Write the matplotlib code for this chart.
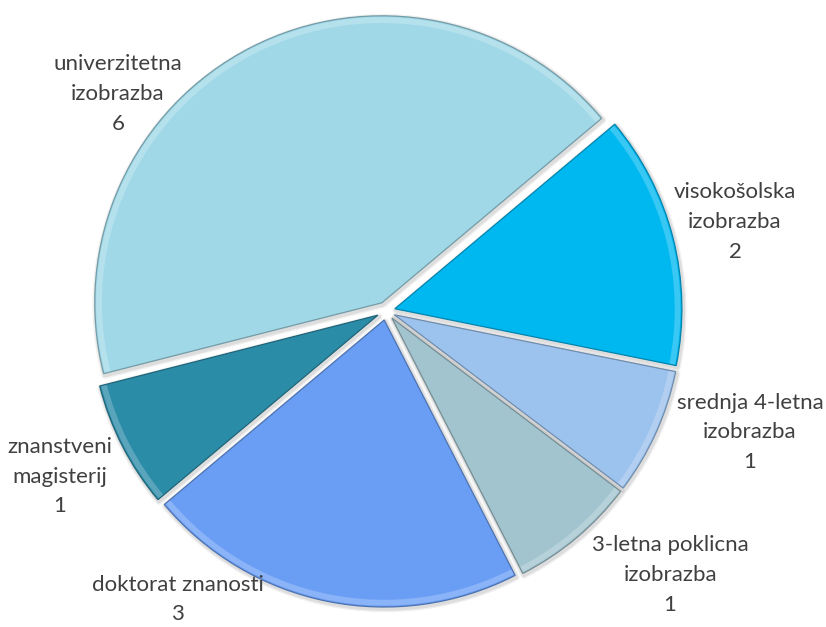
import matplotlib
matplotlib.use("Agg")
import matplotlib.pyplot as plt
import matplotlib.colors as mcolors
from matplotlib.patches import Wedge

categories = ["visokošolska\nizobrazba", "srednja 4-letna\nizobrazba", "3-letna poklicna\nizobrazba",
              "doktorat znanosti", "znanstveni\nmagisterij", "univerzitetna\nizobrazba"]
values = [2, 1, 1, 3, 1, 6]
colors = ["#00B8F0", "#9CC2EE", "#A2C4CE", "#6A9EF5", "#2B8CA8", "#A0D8E8"]

# label layout (data units, radius = 1)
label_pos = [(1.216, 0.310), (1.268, -0.422), (0.990, -0.920),
             (-0.725, -1.005), (-1.136, -0.578), (-0.934, 0.756)]

W, H = 826, 627
cx, cy, R = 386, 311, 287

fig = plt.figure(figsize=(W / 100, H / 100), dpi=100)
ax = fig.add_axes([0, 0, 1, 1])

def darker(c, f=0.75):
    r, g, b = mcolors.to_rgb(c)
    return (r * f, g * f, b * f)

def lighter(c, f=0.45):
    r, g, b = mcolors.to_rgb(c)
    return (r + (1 - r) * f, g + (1 - g) * f, b + (1 - b) * f)

wedges, _ = ax.pie(values, colors=colors, startangle=40, counterclock=False,
                   explode=[0.032] * len(values), radius=1.0,
                   wedgeprops=dict(edgecolor="none", linewidth=0))

for w, c in zip(wedges, colors):
    cen = w.center
    t1, t2 = w.theta1, w.theta2
    z = w.get_zorder()
    # soft shadow
    for lw, a in [(5, 0.06), (3, 0.08)]:
        ax.add_patch(Wedge((cen[0] + 0.004, cen[1] - 0.006), 1.0, t1, t2, facecolor="none",
                           edgecolor="black", alpha=a, linewidth=lw, zorder=z - 0.5,
                           joinstyle="round"))
    # bevel highlight near the rim
    ax.add_patch(Wedge(cen, 0.995, t1, t2, width=0.02, facecolor=lighter(c, 0.22),
                       edgecolor="none", zorder=z + 0.1))
    ax.add_patch(Wedge(cen, 1.0, t1, t2, facecolor="none",
                       edgecolor=darker(c, 0.72), linewidth=0.9,
                       zorder=z + 0.2))

for cat, v, (lx, ly) in zip(categories, values, label_pos):
    ax.text(lx, ly, f"{cat}\n{v}", ha="center", va="center", multialignment="center",
            fontsize=16, family="Lato", color="#404040", linespacing=1.6)

ax.set_xlim(-cx / R, (W - cx) / R)
ax.set_ylim(-(H - cy) / R, cy / R)
ax.set_aspect("auto")
ax.axis("off")

fig.savefig("out.png", dpi=100)
